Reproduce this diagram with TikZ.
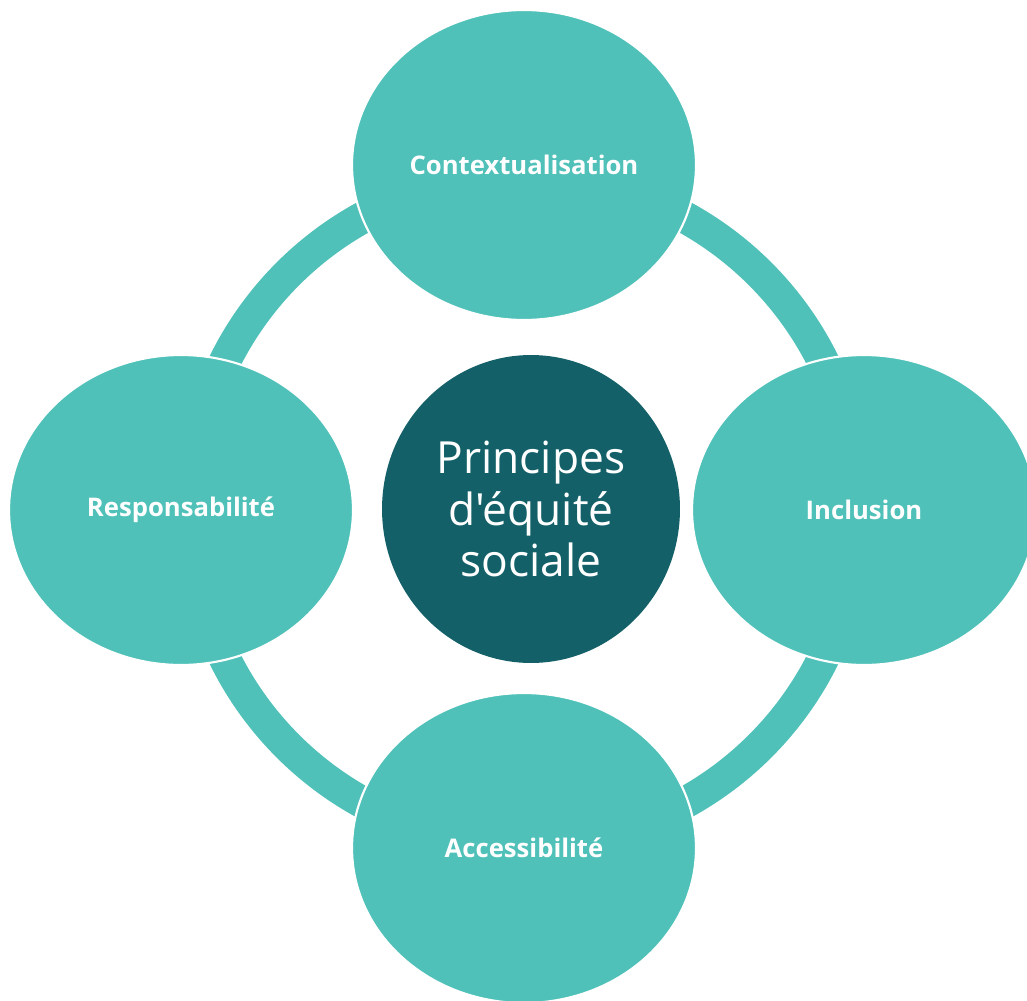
\documentclass[tikz,border=0pt]{standalone}
\usepackage{fontspec}
\setmainfont{Open Sans}
\newfontfamily\hubfont{Open Sans}[Ligatures=TeXOff]
\usetikzlibrary{shapes.geometric}
\definecolor{petal}{HTML}{4FC1B9}
\definecolor{hubteal}{HTML}{136068}

\begin{document}
\begin{tikzpicture}[
        x=0.02cm, y=-0.02cm,
        petal/.style={ellipse, fill=petal, draw=white, line width=1.2pt, inner sep=0pt,
            minimum width=6.88cm, minimum height=6.2cm, text=white,
            font=\fontsize{14.6}{17}\selectfont\bfseries},
        hub/.style={ellipse, fill=hubteal, inner sep=0pt, minimum width=5.96cm,
            minimum height=6.16cm, text=white, align=center,
            font=\hubfont\fontsize{25.2}{29.5}\selectfont},
        ring/.style={draw=petal, line width=0.64cm}
    ]
        \useasboundingbox (0,0) rectangle (1027,1000);
        % Ring behind the four petals
        \coordinate (ringc) at (524,510);
        \draw[ring] (ringc) circle (6.68cm);

        % Petals around the ring
        \node[petal] (top) at (524,165) {Contextualisation};
        \node[petal] (left) at (181,510) {Responsabilité};
        \node[petal] (right) at (864,510) {Inclusion};
        \node[petal] (bottom) at (524,848) {Accessibilité};

        % Centre
        \node[hub] (hub) at (531,509) {Principes\\d'équité\\sociale};
    \end{tikzpicture}
\end{document}
